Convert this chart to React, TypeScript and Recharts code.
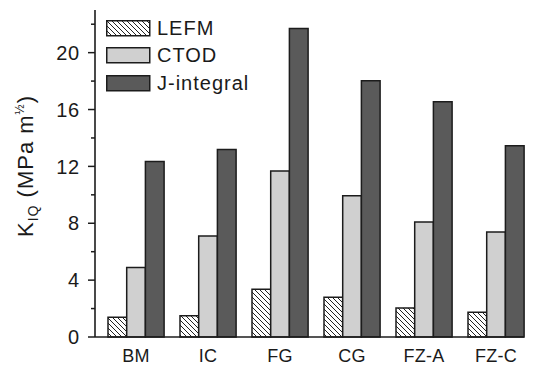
import { Bar, BarChart, Legend, XAxis, YAxis } from "recharts";

const categories = ["BM", "IC", "FG", "CG", "FZ-A", "FZ-C"];
const lefm = [1.39, 1.5, 3.36, 2.79, 2.04, 1.74];
const ctod = [4.88, 7.11, 11.67, 9.93, 8.08, 7.39];
const jIntegral = [12.35, 13.19, 21.69, 18.03, 16.55, 13.45];
const yTicks = [0, 2, 4, 6, 8, 10, 12, 14, 16, 18, 20, 22];

const FONT = '"Liberation Sans", Arial, sans-serif';
const INK = "#1c1c1c";

const series = [
  { key: "lefm", label: "LEFM", fill: "url(#hatch)" },
  { key: "ctod", label: "CTOD", fill: "#d0d0d0" },
  { key: "j", label: "J-integral", fill: "#5a5a5a" },
];

const data = categories.map((name, i) => ({
  name,
  lefm: lefm[i],
  ctod: ctod[i],
  j: jIntegral[i],
}));

function YTick(props: any) {
  const { x, y, payload } = props;
  const axisX = x + 15;
  const major = payload.value % 4 === 0;
  return (
    <g>
      <line x1={axisX - (major ? 7 : 4)} x2={axisX} y1={y} y2={y} stroke={INK} strokeWidth={1.5} />
      {major && (
        <text x={x} y={y} dy="0.36em" textAnchor="end" fill="#1a1a1a" fontSize={20} fontFamily={FONT} letterSpacing={0.8}>
          {payload.value}
        </text>
      )}
    </g>
  );
}

function YTitle() {
  const cx = 33;
  const cy = 166;
  return (
    <text
      x={cx}
      y={cy}
      transform={`rotate(-90 ${cx} ${cy})`}
      textAnchor="middle"
      fill="#1a1a1a"
      fontSize={22}
      fontFamily={FONT}
      letterSpacing={1}
    >
      K
      <tspan fontSize={14} dy={5}>IQ</tspan>
      <tspan dy={-5}> (MPa m</tspan>
      <tspan fontSize={12} dy={-9}>½</tspan>
      <tspan dy={9}>)</tspan>
    </text>
  );
}

function LegendBox() {
  return (
    <div style={{ fontFamily: FONT, fontSize: 20, color: "#1a1a1a", letterSpacing: 1 }}>
      {series.map((s) => (
        <div key={s.key} style={{ display: "flex", alignItems: "center", height: 27.7 }}>
          <svg width={45} height={17}>
            <rect x={0.75} y={0.75} width={43} height={15} fill={s.fill} stroke={INK} strokeWidth={1.5} />
          </svg>
          <span style={{ marginLeft: 6 }}>{s.label}</span>
        </div>
      ))}
    </div>
  );
}

export default function App() {
  return (
    <div style={{ position: "absolute", left: 0, top: 0, background: "#fff" }}>
      <BarChart
        width={541}
        height={365}
        data={data}
        margin={{ top: 10, right: 17, bottom: 0, left: 0 }}
        barGap={0}
        barSize={18.7}
      >
        <defs>
          <pattern id="hatch" patternUnits="userSpaceOnUse" width={5} height={5}>
            <rect width={5} height={5} fill="#fff" />
            <path d="M-1,-1 L6,6 M-1,4 L1,6 M4,-1 L6,1" stroke="#222" strokeWidth={1} />
          </pattern>
        </defs>
        <XAxis
          dataKey="name"
          height={28}
          padding={{ left: 5, right: -8 }}
          tickLine={false}
          tickSize={0}
          tickMargin={12}
          axisLine={{ stroke: INK, strokeWidth: 1.6 }}
          tick={{ fill: "#1a1a1a", fontSize: 18, fontFamily: FONT, letterSpacing: 0.3 }}
          interval={0}
        />
        <XAxis
          xAxisId="top"
          dataKey="name"
          orientation="top"
          height={0}
          tick={false}
          tickLine={false}
          axisLine={{ stroke: INK, strokeWidth: 1.6 }}
        />
        <YAxis
          width={95}
          domain={[0, 23]}
          ticks={yTicks}
          interval={0}
          tickLine={false}
          tickSize={7}
          tickMargin={8}
          axisLine={{ stroke: INK, strokeWidth: 1.6 }}
          tick={<YTick />}
          label={{ content: () => <YTitle /> }}
        />
        <YAxis
          yAxisId="right"
          orientation="right"
          width={0}
          domain={[0, 23]}
          tick={false}
          tickLine={false}
          axisLine={{ stroke: INK, strokeWidth: 1.6 }}
        />
        <Legend
          layout="vertical"
          align="center"
          verticalAlign="middle"
          wrapperStyle={{ left: 106, top: 14.4, width: "auto" }}
          content={() => <LegendBox />}
        />
        {series.map((s) => (
          <Bar
            key={s.key}
            dataKey={s.key}
            name={s.label}
            fill={s.fill}
            stroke={INK}
            strokeWidth={1.5}
            isAnimationActive={false}
          />
        ))}
      </BarChart>
    </div>
  );
}
